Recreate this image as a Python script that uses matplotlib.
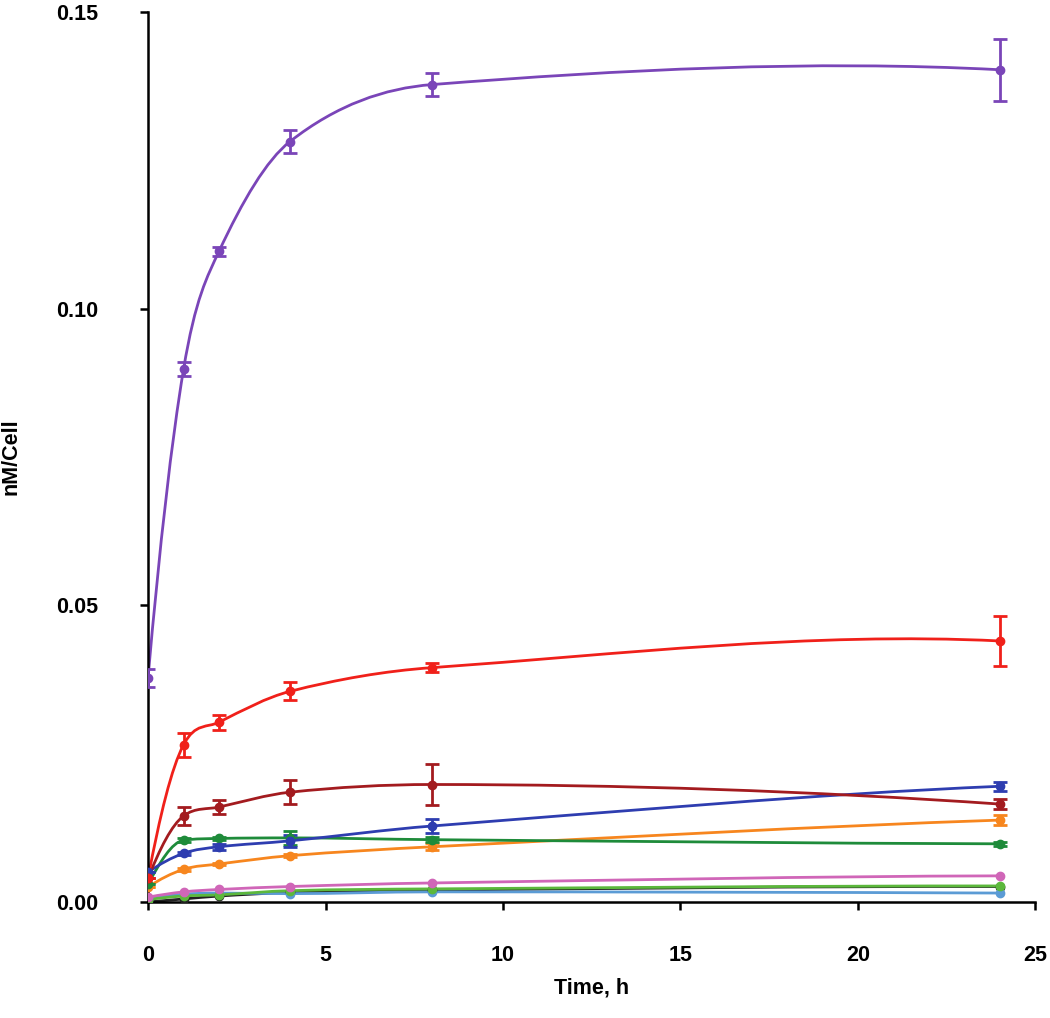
import numpy as np
import matplotlib.pyplot as plt
from matplotlib.path import Path
from matplotlib.patches import PathPatch

time_h = [0, 1, 2, 4, 8, 24]

purple = [0.0378, 0.0898, 0.1097, 0.1282, 0.1378, 0.1403]
purple_err = [0.0015, 0.0012, 0.0008, 0.0020, 0.0020, 0.0052]
red = [0.004, 0.0265, 0.0303, 0.0355, 0.0395, 0.0440]
red_err = [0, 0.0020, 0.0013, 0.0015, 0.0008, 0.0042]
darkred = [0.004, 0.0145, 0.0160, 0.0185, 0.0198, 0.0165]
darkred_err = [0, 0.0015, 0.0012, 0.0020, 0.0035, 0.0008]
blue = [0.0050, 0.0082, 0.0093, 0.0103, 0.0128, 0.0195]
blue_err = [0, 0.0003, 0.0005, 0.0010, 0.0012, 0.0008]
green = [0.0030, 0.0104, 0.0107, 0.0108, 0.0105, 0.0098]
green_err = [0, 0.0003, 0.0003, 0.0012, 0.0004, 0.0003]
orange = [0.0025, 0.0055, 0.0064, 0.0078, 0.0093, 0.0138]
orange_err = [0, 0.0002, 0.0002, 0.0003, 0.0006, 0.0008]
pink = [0.0008, 0.0017, 0.0021, 0.0026, 0.0032, 0.0044]
lightgreen = [0.0004, 0.0010, 0.0012, 0.0019, 0.0022, 0.0027]
lightblue = [0.0005, 0.0013, 0.0015, 0.0014, 0.0017, 0.0015]
black = [0.0, 0.0005, 0.0010, 0.0016, 0.0020, 0.0026]

series = [
  (black, None, '#222222'),
  (lightblue, None, '#5b9bd5'),
  (lightgreen, None, '#5cb83c'),
  (pink, None, '#d066b8'),
  (orange, orange_err, '#f7861e'),
  (green, green_err, '#1e8b3a'),
  (blue, blue_err, '#2e3db0'),
  (darkred, darkred_err, '#a31b1f'),
  (red, red_err, '#f0201a'),
  (purple, purple_err, '#7a45b8'),
]

def smooth_path(x, y):
  # cubic bezier segments through the points, limited tangents (no wiggles)
  x = np.asarray(x, float)
  y = np.asarray(y, float)
  h = np.diff(x)
  d = np.diff(y) / h
  m = np.zeros_like(y)
  for k in range(1, len(x) - 1):
    if d[k-1] * d[k] > 0:
      sec = (y[k+1] - y[k-1]) / (x[k+1] - x[k-1])
      lim = 3 * min(abs(d[k-1]), abs(d[k]))
      m[k] = np.clip(sec, -lim, lim)
  m[0] = ((2 * h[0] + h[1]) * d[0] - h[0] * d[1]) / (h[0] + h[1])
  m[0] = np.clip(m[0], -3 * abs(d[0]), 3 * abs(d[0]))
  m[-1] = ((2 * h[-1] + h[-2]) * d[-1] - h[-1] * d[-2]) / (h[-1] + h[-2])
  m[-1] = np.clip(m[-1], -2 * abs(d[-1]), 2 * abs(d[-1]))
  verts = [(x[0], y[0])]
  codes = [Path.MOVETO]
  for k in range(len(x) - 1):
    verts.append((x[k] + h[k] / 3, y[k] + m[k] * h[k] / 3))
    verts.append((x[k+1] - h[k] / 3, y[k+1] - m[k+1] * h[k] / 3))
    verts.append((x[k+1], y[k+1]))
    codes += [Path.CURVE4] * 3
  return Path(verts, codes)

plt.rcParams['font.family'] = ['Liberation Sans', 'DejaVu Sans']
fig = plt.figure(figsize=(10.5, 10.18), dpi=100)
ax = fig.add_axes([0.141, 0.114, 0.845, 0.874])

for values, err, color in series:
  ax.add_patch(PathPatch(smooth_path(time_h, values), facecolor='none',
                         edgecolor=color, lw=2.0, zorder=2))
  if err is not None:
    ax.errorbar(time_h, values, yerr=err, fmt='o', color=color, ms=6,
                elinewidth=2, capsize=5, capthick=2, zorder=3)
  else:
    ax.plot(time_h, values, 'o', color=color, ms=6, zorder=3)

ax.set_xlim(0, 25)
ax.set_ylim(0, 0.15)
ax.set_xticks([0, 5, 10, 15, 20, 25])
ax.set_yticks([0, 0.05, 0.10, 0.15])
ax.set_yticklabels(['0.00', '0.05', '0.10', '0.15'])
for side in ['top', 'right']:
  ax.spines[side].set_visible(False)
for side in ['left', 'bottom']:
  ax.spines[side].set_linewidth(1.8)
ax.tick_params(direction='out', length=6, width=1.8, labelsize=15.5)
ax.tick_params(axis='y', pad=30)
ax.tick_params(axis='x', pad=25)
for lab in ax.get_xticklabels() + ax.get_yticklabels():
  lab.set_fontweight('bold')
ax.set_xlabel('Time, h', fontsize=15.5, fontweight='bold', labelpad=8)
ax.set_ylabel('nM/Cell', fontsize=15.5, fontweight='bold')
ax.yaxis.set_label_coords(-0.143, 0.5)

plt.savefig('out.png')
